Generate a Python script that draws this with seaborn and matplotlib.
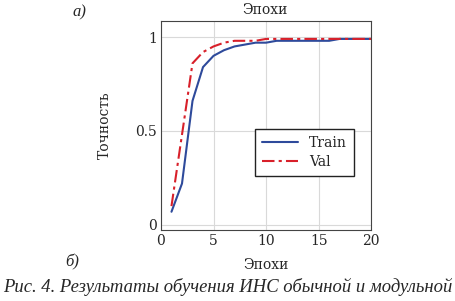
import pandas as pd
import seaborn as sns
import matplotlib.pyplot as plt

epochs = list(range(1, 21))
train_acc = [0.07, 0.22, 0.66, 0.84, 0.90, 0.93, 0.95, 0.96, 0.97, 0.97,
             0.98, 0.98, 0.98, 0.98, 0.98, 0.98, 0.99, 0.99, 0.99, 0.99]
val_acc = [0.10, 0.48, 0.86, 0.92, 0.95, 0.97, 0.98, 0.98, 0.98, 0.99,
           0.99, 0.99, 0.99, 0.99, 0.99, 0.99, 0.99, 0.99, 0.99, 0.99]
series = ['Train', 'Val']


def main():
    df = pd.DataFrame({'epoch': epochs * 2,
                       'acc': train_acc + val_acc,
                       'set': [series[0]] * len(epochs) + [series[1]] * len(epochs)})

    sns.set_style('whitegrid', {'grid.color': '#d9d9d9', 'axes.edgecolor': '#444444'})
    plt.rcParams['font.family'] = ['DejaVu Serif']

    fig = plt.figure(figsize=(4.56, 3.01), dpi=100)
    ax = fig.add_axes([0.353, 0.236, 0.461, 0.694])
    sns.lineplot(data=df, x='epoch', y='acc', hue='set', style='set',
                 palette=['#2e4a9b', '#d8202a'], dashes=['', (6, 2, 1.5, 2)],
                 linewidth=1.5, ax=ax)

    ax.set_xlim(0, 20)
    ax.set_ylim(-0.027, 1.085)
    ax.set_xticks([0, 5, 10, 15, 20])
    ax.set_yticks([0, 0.5, 1])
    ax.set_yticklabels(['0', '0.5', '1'])
    ax.tick_params(labelsize=10, direction='in', length=3, color='#444444', pad=3)
    for sp in ax.spines.values():
        sp.set_linewidth(0.8)
    ax.set_xlabel('Эпохи', fontsize=10, labelpad=7)
    ax.set_ylabel('Точность', fontsize=10, labelpad=17)

    ax.legend(loc='center right', bbox_to_anchor=(0.95, 0.37), fontsize=10,
              frameon=True, fancybox=False, edgecolor='#222222', framealpha=1,
              handlelength=2.6, borderpad=0.5, labelspacing=0.35)

    fig.text(0.58, 0.968, 'Эпохи', ha='center', va='center', fontsize=10)
    fig.text(0.16, 0.96, 'а)', ha='left', va='center', fontsize=12,
             style='italic', family='Liberation Serif')
    fig.text(0.143, 0.13, 'б)', ha='left', va='center', fontsize=12,
             style='italic', family='Liberation Serif')
    fig.text(0.5, 0.047, 'Рис. 4. Результаты обучения ИНС обычной и модульной',
             ha='center', va='center', fontsize=13.4, style='italic',
             family='Liberation Serif')

    fig.savefig('out.png', dpi=100)


if __name__ == '__main__':
    main()
